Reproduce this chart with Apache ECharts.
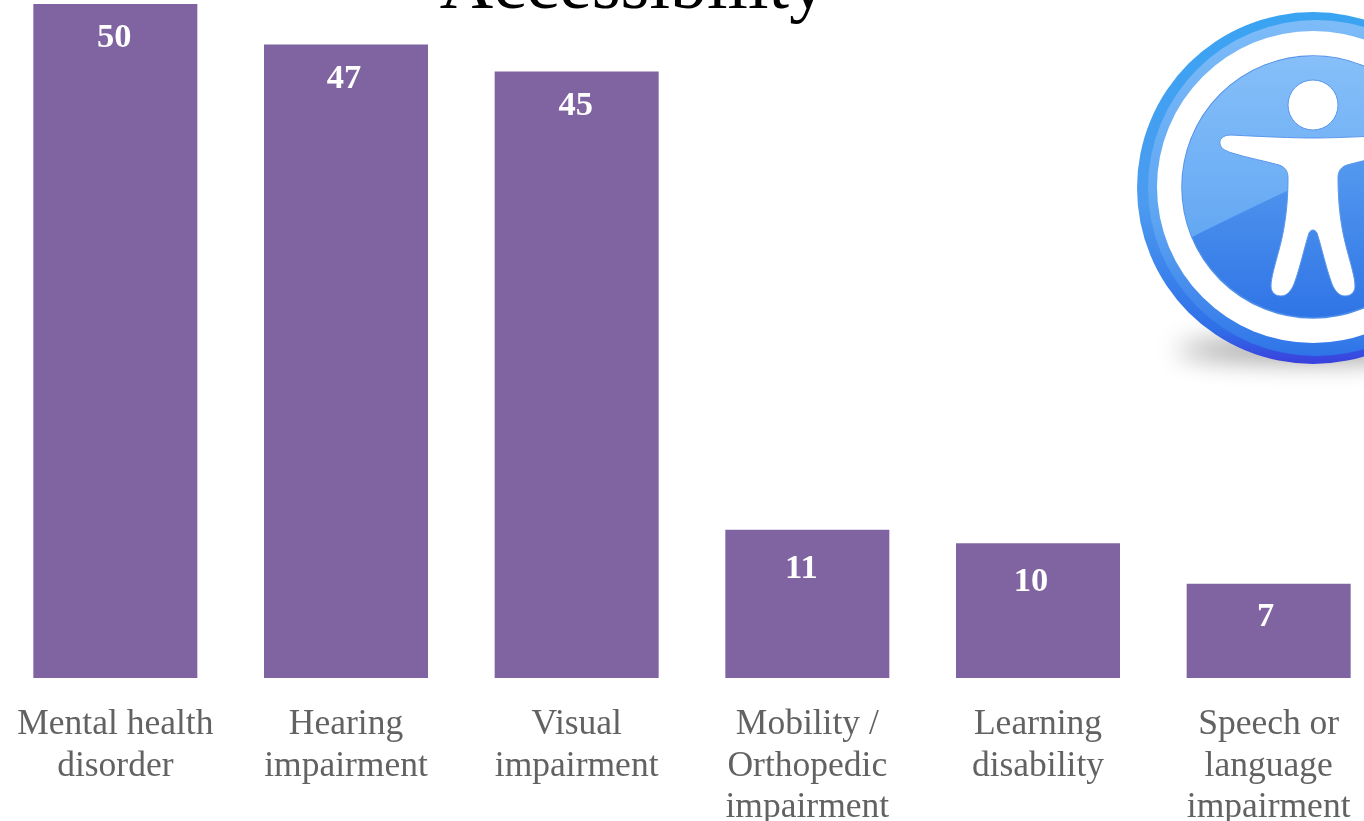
<!DOCTYPE html>
<html>
<head>
<meta charset="utf-8">
<style>html,body{margin:0;padding:0;background:#fff;overflow:hidden}#chart{width:1364px;height:821px}</style>
<script src="https://cdn.jsdelivr.net/npm/echarts@6/dist/echarts.min.js"></script>
</head>
<body>
<div id="chart"></div>
<script>
const chartTitle = 'Accessibility';
const categories = [
  'Mental health\ndisorder',
  'Hearing\nimpairment',
  'Visual\nimpairment',
  'Mobility /\nOrthopedic\nimpairment',
  'Learning\ndisability',
  'Speech or\nlanguage\nimpairment'
];
const counts = [50, 47, 45, 11, 10, 7];
// Hand-placed [x, y] nudges for the value labels inside each bar
const labelNudges = [[-1, 0], [-2, 0], [-1, 0], [-6, 5], [-7, 4], [-3, -1]];

const serif = '"Liberation Serif", serif';

// Accessibility badge: outline of the figure, mirrored around its vertical axis
const figurePath =
  'M1313,138 C1290,138 1250,136 1231,135 C1222,135 1219,140 1220,144 C1221,149 1226,151 1232,153 ' +
  'C1248,158 1265,161 1279,165 C1285,167 1288,171 1288,178 C1288,205 1285,228 1279,250 ' +
  'C1275,265 1271,278 1271,286 C1271,293 1276,296 1281,296 C1287,296 1291,291 1294,284 ' +
  'C1300,268 1305,245 1309,233 C1311,229 1315,229 1317,233 C1321,245 1326,268 1332,284 ' +
  'C1335,291 1339,296 1345,296 C1350,296 1355,293 1355,286 C1355,278 1351,265 1347,250 ' +
  'C1341,228 1338,205 1338,178 C1338,171 1341,167 1347,165 C1361,161 1378,158 1394,153 ' +
  'C1400,151 1405,149 1406,144 C1407,140 1404,135 1395,135 C1376,136 1336,138 1313,138 Z';
const glossPath = 'M1192,237 A131,131 0 0 1 1429,126 Q1290,188 1192,237 Z';

echarts.graphic.registerShape('badgeFigure', echarts.graphic.extendPath(figurePath, {}));
echarts.graphic.registerShape('badgeGloss', echarts.graphic.extendPath(glossPath, {}));

const badge = [
  // Drop shadow only: the ellipse itself sits above the canvas, its blur falls under the badge
  { type: 'ellipse', z: 1,
    shape: { cx: 1313, cy: -1000, rx: 135, ry: 10 },
    style: { fill: '#000000', shadowBlur: 26, shadowColor: '#8c8c8c', shadowOffsetY: 1350 } },
  { type: 'circle', z: 2,
    shape: { cx: 1313, cy: 188, r: 176 },
    style: { fill: new echarts.graphic.LinearGradient(0, 0, 0, 1, [
      { offset: 0, color: '#3aa4f2' },
      { offset: 0.55, color: '#4b9bf0' },
      { offset: 0.9, color: '#2f6fe8' },
      { offset: 1, color: '#3a3fdc' }
    ]) } },
  { type: 'circle', z: 3,
    shape: { cx: 1316, cy: 188, r: 168 },
    style: { fill: new echarts.graphic.LinearGradient(0, 0, 0, 1, [
      { offset: 0, color: '#7dbbf8' },
      { offset: 0.6, color: '#5da5f2' },
      { offset: 1, color: '#2f74e8' }
    ]) } },
  { type: 'circle', z: 4,
    shape: { cx: 1313, cy: 187, r: 156 },
    style: { fill: '#ffffff' } },
  { type: 'circle', z: 5,
    shape: { cx: 1313, cy: 187, r: 131 },
    style: { fill: new echarts.graphic.LinearGradient(0, 0, 0, 1, [
      { offset: 0.3, color: '#5a9ff0' },
      { offset: 1, color: '#2f74e6' }
    ]), stroke: '#4f8fe8', lineWidth: 1.5 } },
  { type: 'badgeGloss', z: 6,
    style: { fill: new echarts.graphic.LinearGradient(0, 0, 0, 1, [
      { offset: 0, color: '#86bff9' },
      { offset: 1, color: '#64a8f3' }
    ]) } },
  { type: 'badgeFigure', z: 7,
    style: { fill: '#ffffff', stroke: '#5b97ec', lineWidth: 1 } },
  { type: 'circle', z: 7,
    shape: { cx: 1313, cy: 105, r: 25 },
    style: { fill: '#ffffff', stroke: '#5b97ec', lineWidth: 1 } }
];

const chart = echarts.init(document.getElementById('chart'), null, { renderer: 'canvas' });
chart.setOption({
  animation: false,
  backgroundColor: '#ffffff',
  title: {
    text: chartTitle,
    left: 628,
    textAlign: 'center',
    top: -53,
    textStyle: { fontFamily: serif, fontSize: 74, fontWeight: 'normal', color: '#000000' }
  },
  grid: { left: 0, top: 4, width: 1384, height: 674, outerBoundsMode: 'none' },
  xAxis: {
    type: 'category',
    data: categories,
    axisLine: { show: false },
    axisTick: { show: false },
    axisLabel: {
      interval: 0,
      margin: 26,
      fontFamily: serif,
      fontSize: 35.5,
      lineHeight: 41.5,
      color: '#626262'
    }
  },
  yAxis: { type: 'value', min: 0, max: 50, show: false },
  series: [{
    type: 'bar',
    data: counts.map((value, i) => ({ value, label: { offset: labelNudges[i] } })),
    barWidth: 164,
    itemStyle: { color: '#8064a2' },
    label: {
      show: true,
      position: 'insideTop',
      distance: 17,
      fontFamily: serif,
      fontSize: 34.5,
      fontWeight: 'bold',
      color: '#ffffff'
    }
  }],
  graphic: badge
});
</script>
</body>
</html>
